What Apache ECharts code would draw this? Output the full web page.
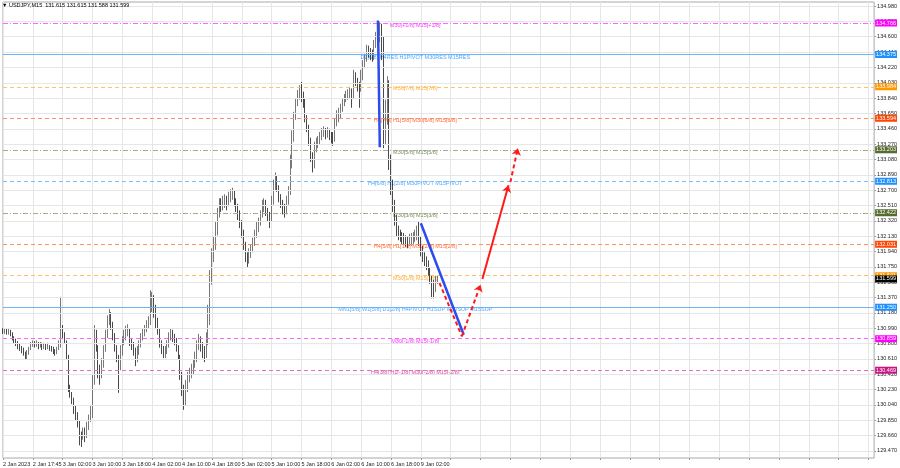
<!DOCTYPE html>
<html><head><meta charset="utf-8">
<script src="https://cdn.jsdelivr.net/npm/echarts@6/dist/echarts.min.js"></script>
<style>html,body{margin:0;padding:0;background:#fff}#c{width:900px;height:468px}</style>
</head><body><div id="c"></div>
<script>
// ---------------- DATA ----------------
const symbolTitle = 'USDJPY,M15';
const headerQuote = ['131.615', '131.615', '131.588', '131.599'];
const timeTickLabels = ['2 Jan 2023', '2 Jan 17:45', '3 Jan 02:00', '3 Jan 10:00', '3 Jan 18:00', '4 Jan 02:00', '4 Jan 10:00', '4 Jan 18:00', '5 Jan 02:00', '5 Jan 10:00', '5 Jan 18:00', '6 Jan 02:00', '6 Jan 10:00', '6 Jan 18:00', '9 Jan 02:00'];
const priceTicks = [129.470, 129.660, 129.850, 130.040, 130.230, 130.420, 130.610, 130.800, 130.990, 131.180, 131.370, 131.560, 131.750, 131.940, 132.130, 132.320, 132.510, 132.700, 132.890, 133.080, 133.270, 133.460, 133.650, 133.840, 134.030, 134.220, 134.410, 134.600, 134.790, 134.980];

const firstOpen = 130.96;
const barClose = [
 130.94,130.96,130.93,130.94,130.92,130.87,130.83,130.81,130.77,130.75,
 130.72,130.68,130.63,130.67,130.72,130.77,130.81,130.78,130.80,130.77,
 130.78,130.76,130.77,130.76,130.77,130.75,130.73,130.71,130.68,130.72,
 130.78,130.97,130.92,130.84,130.66,130.25,130.18,130.10,130.00,129.92,
 129.83,129.63,129.61,129.71,129.66,129.76,129.83,129.92,130.29,130.91,
 130.78,130.47,130.41,130.54,130.72,130.91,131.07,131.15,131.03,130.91,
 130.75,130.62,130.52,130.70,130.82,130.89,130.94,130.97,130.82,130.77,
 130.72,130.60,130.70,130.78,130.87,130.93,130.97,131.02,131.07,131.28,
 131.34,131.22,131.09,130.97,130.82,130.72,130.66,130.70,130.78,130.87,
 130.92,130.89,130.84,130.75,130.65,130.41,130.23,130.10,130.25,130.37,
 130.42,130.47,130.52,130.60,130.75,130.84,130.77,130.70,130.66,130.84,
 131.09,131.59,131.86,132.02,132.18,132.39,132.52,132.50,132.55,132.58,
 132.54,132.60,132.64,132.66,132.58,132.50,132.43,132.31,132.18,132.02,
 131.86,131.81,131.91,131.96,132.03,132.13,132.23,132.28,132.38,132.50,
 132.55,132.45,132.38,132.33,132.55,132.73,132.85,132.75,132.63,132.55,
 132.48,132.43,132.55,132.68,133.01,133.32,133.59,133.77,133.87,133.92,
 133.88,133.82,133.62,133.48,133.32,133.12,133.01,133.20,133.26,133.30,
 133.35,133.39,133.43,133.39,133.42,133.38,133.35,133.32,133.52,133.62,
 133.64,133.69,133.77,133.83,133.87,133.89,133.92,133.88,134.11,134.06,
 133.99,133.94,134.11,134.24,134.31,134.44,134.41,134.37,134.34,134.50,
 134.61,134.56,134.71,134.58,133.32,133.57,134.04,133.07,132.76,132.52,
 132.33,132.21,132.16,132.13,132.11,132.10,132.07,132.06,132.08,132.08,
 132.11,132.13,132.16,132.11,131.96,131.88,131.83,131.79,131.71,131.61,
 131.51,131.46,131.56,131.60
];
const barHigh = [
 130.99,130.99,130.98,130.98,130.97,130.94,130.89,130.86,130.83,130.80,
 130.77,130.75,130.70,130.72,130.76,130.82,130.84,130.83,130.84,130.82,
 130.82,130.81,130.81,130.80,130.81,130.78,130.77,130.76,130.73,130.76,
 130.84,131.38,131.03,130.94,130.84,130.66,130.29,130.20,130.13,130.04,
 129.95,129.85,129.71,129.76,129.76,129.83,129.92,130.04,130.41,131.03,
 130.97,130.78,130.54,130.62,130.78,130.97,131.15,131.23,131.19,131.07,
 130.93,130.78,130.66,130.78,130.89,130.97,131.02,131.04,130.99,130.87,
 130.82,130.75,130.77,130.84,130.93,130.99,131.03,131.09,131.14,131.46,
 131.44,131.40,131.28,131.12,130.99,130.84,130.77,130.77,130.84,130.94,
 130.99,130.97,130.92,130.87,130.78,130.66,130.45,130.29,130.35,130.45,
 130.50,130.55,130.60,130.70,130.84,130.92,130.89,130.82,130.77,130.94,
 131.28,131.71,131.98,132.13,132.31,132.48,132.60,132.60,132.63,132.65,
 132.63,132.68,132.71,132.73,132.70,132.60,132.53,132.45,132.33,132.21,
 132.06,131.93,131.98,132.03,132.11,132.21,132.31,132.36,132.45,132.58,
 132.60,132.58,132.48,132.43,132.63,132.83,132.92,132.88,132.76,132.65,
 132.58,132.53,132.63,132.75,133.14,133.44,133.67,133.84,133.94,134.00,
 134.04,133.92,133.84,133.63,133.51,133.35,133.17,133.30,133.35,133.37,
 133.42,133.47,133.49,133.47,133.48,133.46,133.42,133.42,133.59,133.69,
 133.72,133.77,133.84,133.89,133.93,133.95,133.98,133.96,134.19,134.16,
 134.09,134.04,134.19,134.31,134.39,134.50,134.49,134.46,134.44,134.56,
 134.66,134.66,134.78,134.76,134.60,133.82,134.11,134.06,133.14,132.83,
 132.58,132.39,132.26,132.21,132.18,132.17,132.14,132.13,132.16,132.17,
 132.18,132.21,132.26,132.31,132.13,132.01,131.93,131.88,131.83,131.74,
 131.64,131.59,131.64,131.64
];
const barLow = [
 130.92,130.92,130.91,130.91,130.89,130.84,130.80,130.77,130.73,130.71,
 130.68,130.65,130.60,130.61,130.66,130.72,130.76,130.75,130.76,130.73,
 130.75,130.72,130.73,130.72,130.73,130.71,130.70,130.67,130.65,130.67,
 130.72,130.75,130.87,130.80,130.60,130.20,130.13,130.05,129.93,129.85,
 129.76,129.54,129.52,129.61,129.58,129.63,129.73,129.83,129.88,130.29,
 130.70,130.37,130.29,130.37,130.50,130.70,130.87,131.03,130.97,130.84,
 130.70,130.57,130.19,130.47,130.65,130.78,130.84,130.89,130.77,130.72,
 130.65,130.52,130.57,130.66,130.75,130.84,130.89,130.94,130.99,131.03,
 131.19,131.12,130.99,130.91,130.75,130.67,130.62,130.62,130.67,130.75,
 130.84,130.82,130.78,130.70,130.60,130.35,130.15,129.98,130.03,130.20,
 130.32,130.37,130.42,130.50,130.57,130.72,130.70,130.62,130.57,130.62,
 130.78,131.03,131.53,131.81,131.96,132.14,132.36,132.43,132.45,132.48,
 132.45,132.50,132.55,132.58,132.50,132.43,132.33,132.23,132.11,131.96,
 131.81,131.74,131.79,131.86,131.93,132.01,132.11,132.18,132.26,132.36,
 132.43,132.38,132.31,132.23,132.31,132.52,132.70,132.68,132.55,132.48,
 132.40,132.36,132.40,132.52,132.64,132.97,133.30,133.57,133.74,133.82,
 133.79,133.72,133.54,133.42,133.25,133.05,132.92,132.97,133.17,133.22,
 133.26,133.32,133.36,133.33,133.35,133.32,133.28,133.25,133.30,133.49,
 133.54,133.59,133.67,133.74,133.79,133.82,133.84,133.72,133.84,133.99,
 133.92,133.72,133.92,134.06,134.21,134.29,134.34,134.31,134.29,134.31,
 134.46,134.50,134.53,134.31,133.22,133.26,133.51,132.95,132.64,132.43,
 132.26,132.13,132.08,132.06,132.03,132.02,132.00,131.98,132.01,132.01,
 132.03,132.06,132.08,132.01,131.88,131.81,131.76,131.71,131.64,131.54,
 131.36,131.36,131.44,131.54
];
const lastPrice = 131.599;

const levelPrices = [134.766, 134.375, 133.984, 133.594, 133.203, 132.813, 132.422, 132.031, 131.641, 131.250, 130.859, 130.469];
const levelTexts = [
 'M30[+1/8] M15[+1/8]',
 'D1[6/8] H4RES H1PIVOT M30RES M15RES',
 'M30[7/8] M15[7/8]',
 'H4[7/8] H1[5/8] M30[6/8] M15[6/8]',
 'M30[5/8] M15[5/8]',
 'H4[6/8] H1[2/8] M30PIVOT M15PIVOT',
 'M30[3/8] M15[3/8]',
 'H4[5/8] H1[1/8] M30[2/8] M15[2/8]',
 'M30[1/8] M15[1/8]',
 'MN1[5/8] W1[5/8] D1[2/8] H4PIVOT H1SUP M30SUP M15SUP',
 'M30[-1/8] M15[-1/8]',
 'H4[3/8] H1[-1/8] M30[-2/8] M15[-2/8]'
];

// forecast drawings: [bar index, price] pairs
const blueLines = [[[201, 134.80], [202, 133.23]], [[224, 132.29], [247, 130.91]]];
const redDashedPlain = [[[234, 131.55], [246, 130.89]]];
const redDashedArrow = [[[246, 130.89], [256, 131.53]], [[272, 132.80], [276, 133.22]]];
const redSolidArrow = [[[257, 131.60], [271, 132.76]]];

// ---------------- STYLE / LAYOUT ----------------
const FONT = '"Liberation Sans", Arial, sans-serif';
const FS = 5.5;
const totalSlots = 468;
const labelSlot = 221;
const levelStyle = [
 {tag: '#ff00ff', line: '#ff66ff', type: [5, 2, 1, 2]},
 {tag: '#1e90ff', line: '#6cb4f7', type: 'solid'},
 {tag: '#ff9900', line: '#ffc266', type: [4, 3]},
 {tag: '#ff4500', line: '#ff8f66', type: [4, 3]},
 {tag: '#556b2f', line: '#a3ad8c', type: [5, 2, 1, 2]},
 {tag: '#1e90ff', line: '#7cbcf7', type: [4, 3]},
 {tag: '#556b2f', line: '#a3ad8c', type: [5, 2, 1, 2]},
 {tag: '#ff4500', line: '#ff8f66', type: [4, 3]},
 {tag: '#ff9900', line: '#ffc266', type: [4, 3]},
 {tag: '#1e90ff', line: '#6cb4f7', type: 'solid'},
 {tag: '#ff00ff', line: '#ff66ff', type: [4, 3]},
 {tag: '#c71585', line: '#e070b8', type: [4, 3]}
];

const categories = Array.from({length: totalSlots}, (_, i) => 'slot' + i);
const candleData = barClose.map((c, i) => {
  const o = i === 0 ? firstOpen : barClose[i - 1];
  return [o, c, Math.min(barLow[i], o, c), Math.max(barHigh[i], o, c)];
});

const tagLabel = (txt, bg) => ({
  show: true, position: 'end', distance: 1, formatter: txt,
  backgroundColor: bg, color: '#fff', fontSize: FS, fontFamily: FONT,
  padding: [1, 1, 0, 1], lineHeight: 6
});

// one series per level so each line keeps its own colour
const levelSeries = levelPrices.map((p, k) => ({
  name: 'level' + k, type: 'line', data: [], z: 1, silent: true,
  color: levelStyle[k].line,
  markLine: {
    silent: true, symbol: 'none', animation: false,
    lineStyle: {color: levelStyle[k].line, type: levelStyle[k].type, width: 1, opacity: 1},
    label: tagLabel(p.toFixed(3), levelStyle[k].tag),
    data: [{yAxis: p}]
  }
}));

const toLines = arr => arr.map(seg => ({coords: seg}));

const option = {
  animation: false,
  backgroundColor: '#fff',
  title: {
    text: '▼ ' + symbolTitle + '  ' + headerQuote.join(' '),
    left: 2, top: 2, padding: 0,
    textStyle: {fontSize: FS, fontWeight: 'normal', color: '#000', fontFamily: FONT}
  },
  grid: {left: 1, right: 23, top: 2, bottom: 10, show: true, borderColor: '#a8a8a8', borderWidth: 1, backgroundColor: 'transparent'},
  xAxis: {
    type: 'category', data: categories, boundaryGap: false,
    axisLine: {show: false},
    axisTick: {show: true, interval: 15, length: 2, lineStyle: {color: '#999'}},
    axisLabel: {
      interval: 15, align: 'left', margin: 3, fontSize: FS, color: '#222', fontFamily: FONT,
      formatter: v => { const i = +v.slice(4); return (i % 16 === 0 && timeTickLabels[i / 16]) ? timeTickLabels[i / 16] : ''; }
    },
    splitLine: {show: true, interval: 15, lineStyle: {color: '#e6e6e6', width: 1}}
  },
  yAxis: {
    type: 'value', position: 'right', min: 129.383, max: 135.030, scale: true,
    axisLine: {show: false},
    axisTick: {show: true, length: 2, customValues: priceTicks, lineStyle: {color: '#999'}},
    axisLabel: {customValues: priceTicks, margin: 3, fontSize: FS, color: '#222', fontFamily: FONT, formatter: v => v.toFixed(3)},
    splitLine: {show: false}
  },
  series: [
    {
      name: 'grid', type: 'line', data: [], z: 0, silent: true, color: '#e6e6e6',
      markLine: {silent: true, symbol: 'none', animation: false, label: {show: false},
        lineStyle: {color: '#e6e6e6', type: 'solid', width: 1},
        data: priceTicks.map(p => ({yAxis: p}))}
    },
    ...levelSeries,
    {
      name: 'lastPrice', type: 'line', data: [], z: 1, silent: true,
      markLine: {silent: true, symbol: 'none', animation: false,
        lineStyle: {color: 'rgba(0,0,0,0)', width: 0},
        label: tagLabel(lastPrice.toFixed(3), '#000'),
        data: [{yAxis: lastPrice}]}
    },
    {
      name: 'levelText', type: 'scatter', z: 2, silent: true, symbolSize: 0,
      data: levelPrices.map((p, k) => ({value: [labelSlot, p], name: levelTexts[k],
        label: {color: levelStyle[k].tag}})),
      label: {show: true, position: 'inside', offset: [0, 2.5], formatter: '{b}', fontSize: FS, fontFamily: FONT}
    },
    {
      name: symbolTitle, type: 'candlestick', data: candleData, z: 3, barWidth: 1,
      itemStyle: {color: '#555', color0: '#1a1a1a', borderColor: '#555', borderColor0: '#1a1a1a', borderWidth: 0.8}
    },
    {
      type: 'lines', coordinateSystem: 'cartesian2d', z: 5, symbol: 'none',
      lineStyle: {color: '#2a4cf0', width: 2.5, type: 'solid', opacity: 1},
      data: toLines(blueLines)
    },
    {
      type: 'lines', coordinateSystem: 'cartesian2d', z: 6, symbol: 'none',
      lineStyle: {color: '#ff1a1a', width: 2, type: [4, 3], opacity: 1},
      data: toLines(redDashedPlain)
    },
    {
      type: 'lines', coordinateSystem: 'cartesian2d', z: 6, symbol: ['none', 'arrow'], symbolSize: 7,
      lineStyle: {color: '#ff1a1a', width: 2, type: [4, 3], opacity: 1},
      data: toLines(redDashedArrow)
    },
    {
      type: 'lines', coordinateSystem: 'cartesian2d', z: 6, symbol: ['none', 'arrow'], symbolSize: 7,
      lineStyle: {color: '#ff1a1a', width: 2, type: 'solid', opacity: 1},
      data: toLines(redSolidArrow)
    }
  ]
};
const chart = echarts.init(document.getElementById('c'), null, {renderer: 'canvas'});
chart.setOption(option);
</script>
</body></html>
